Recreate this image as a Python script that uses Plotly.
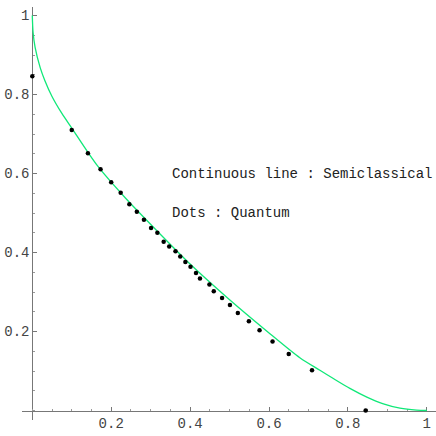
import plotly.graph_objects as go

# semiclassical curve
curve_x = [0, 0.002, 0.007, 0.02, 0.032, 0.05, 0.075, 0.1, 0.164, 0.236, 0.317, 0.402, 0.495,
           0.597, 0.679, 0.729, 0.763, 0.805, 0.848, 0.890, 0.932, 0.974, 1.0]
curve_y = [1, 0.957, 0.92, 0.868, 0.835, 0.795, 0.752, 0.715, 0.621, 0.538, 0.454, 0.369, 0.285,
           0.199, 0.133, 0.102, 0.081, 0.056, 0.034, 0.017, 0.006, 0.001, 0]

# quantum dots
dots_x = [0, 0.1, 0.141, 0.173, 0.200, 0.224, 0.246, 0.265, 0.283, 0.301, 0.317, 0.333,
          0.347, 0.363, 0.375, 0.388, 0.401, 0.415, 0.425, 0.449, 0.460, 0.481, 0.501,
          0.521, 0.549, 0.576, 0.609, 0.650, 0.709, 0.845]
dots_y = [0.846, 0.710, 0.651, 0.611, 0.578, 0.551, 0.522, 0.503, 0.483, 0.462, 0.450, 0.427,
          0.415, 0.403, 0.390, 0.376, 0.364, 0.348, 0.334, 0.319, 0.302, 0.285, 0.267,
          0.247, 0.226, 0.203, 0.175, 0.143, 0.102, 0.0]

tick_vals = [0.2, 0.4, 0.6, 0.8, 1]
tick_text = ['0.2', '0.4', '0.6', '0.8', '1']

x_range = [-0.0261, 1.0233]
y_range = [-0.024, 1.0215]

fig = go.Figure()
fig.add_trace(go.Scatter(x=curve_x, y=curve_y, mode='lines',
                         line=dict(color='#10e878', width=1.3, shape='spline', smoothing=0.8),
                         hoverinfo='skip'))
fig.add_trace(go.Scatter(x=dots_x, y=dots_y, mode='markers', marker=dict(size=4.5, color='black'),
                         hoverinfo='skip'))

fig.add_annotation(x=0.349, y=0.598, text='Continuous line : Semiclassical', showarrow=False,
                   xanchor='left', yanchor='middle', font=dict(family='Liberation Mono', size=14, color='#222'))
fig.add_annotation(x=0.349, y=0.499, text='Dots : Quantum', showarrow=False,
                   xanchor='left', yanchor='middle', font=dict(family='Liberation Mono', size=14, color='#222'))

axis_common = dict(showgrid=False, zeroline=False, showline=True, linecolor='#777', linewidth=1,
                   ticks='inside', ticklen=4, tickcolor='#777', tickvals=tick_vals, ticktext=tick_text,
                   tickfont=dict(family='Liberation Mono', size=14, color='#444'),
                   minor=dict(tickmode='linear', tick0=0, dtick=0.05, ticks='inside', ticklen=2, tickcolor='#999'),
                   automargin=False, anchor='free', layer='below traces')

fig.update_xaxes(range=x_range, position=(0 - y_range[0]) / (y_range[1] - y_range[0]), **axis_common)
fig.update_yaxes(range=y_range, position=(0 - x_range[0]) / (x_range[1] - x_range[0]), **axis_common)

fig.update_layout(width=436, height=436, showlegend=False, plot_bgcolor='white', paper_bgcolor='white',
                  margin=dict(l=22, r=0, t=7, b=16))
# page body has an 8px default margin, drop it so the figure sits at the corner
fig.write_html("out.html", config={'displayModeBar': False},
               post_script="document.body.style.margin='0';")
